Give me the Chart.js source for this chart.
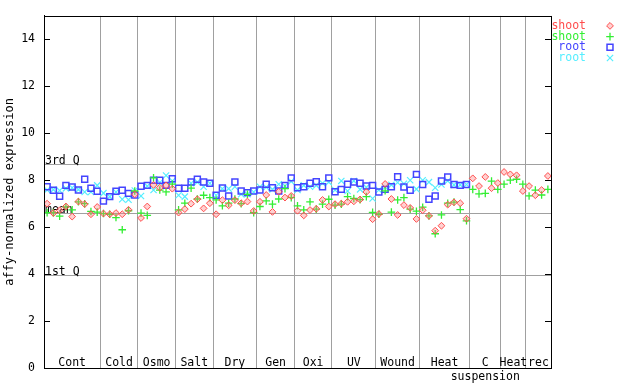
<!DOCTYPE html>
<html>
<head>
<meta charset="utf-8">
<script src="https://cdn.jsdelivr.net/npm/chart.js@4.4.1/dist/chart.umd.min.js"></script>
<style>
  body { margin: 0; background: #fff; }
  canvas { display: block; }
</style>
</head>
<body>
<canvas id="myChart" width="640" height="384"></canvas>
<script>
// groups along the x axis (label lines, number of samples)
const groupLabels = [['Cont'], ['Cold'], ['Osmo'], ['Salt'], ['Dry'], ['Gen'], ['Oxi'], ['UV'],
  ['Wound'], ['Heat'], ['C', 'suspension'], ['Heat'], ['rec']];
const groupSizes = [9, 6, 6, 6, 7, 6, 6, 7, 7, 8, 5, 4, 4];

const seriesNames = ['shoot', 'shoot', 'root', 'root'];

const shootRed = [
  7.00, 6.60, 6.72, 6.88, 6.45, 7.09, 6.98, 6.55, 6.86,
  6.58, 6.55, 6.60, 6.55, 6.74, 7.40,
  6.39, 6.88, 7.80, 7.68, 7.78, 7.64,
  6.62, 6.77, 7.00, 7.19, 6.80, 7.02,
  6.55, 7.15, 6.93, 7.15, 7.02, 7.09, 6.69,
  7.08, 7.37, 6.65, 7.51, 7.26, 7.33,
  6.70, 6.50, 6.73, 6.78, 7.16, 6.88,
  6.98, 7.00, 7.08, 7.10, 7.18, 7.50, 6.34,
  6.56, 7.84, 7.20, 6.52, 6.94, 6.82, 6.35,
  6.72, 6.48, 5.85, 6.06, 6.96, 7.06, 7.02, 6.36,
  8.08, 7.75, 8.14, 7.66, 7.88,
  8.35, 8.25, 8.21, 7.54,
  7.75, 7.36, 7.58, 8.18
];
const shootGreen = [
  6.62, 6.62, 6.47, 6.86, 6.74, 7.08, 7.00, 6.67, 6.64,
  6.58, 6.55, 6.41, 5.89, 6.70, 7.54,
  6.60, 6.50, 8.10, 7.58, 7.50, 7.83,
  6.74, 7.02, 7.66, 7.20, 7.36, 7.26,
  7.16, 6.91, 7.02, 7.20, 7.00, 7.40, 6.62,
  6.88, 7.12, 6.98, 7.20, 7.64, 7.26,
  6.91, 6.74, 7.08, 6.77, 6.98, 7.19,
  6.94, 6.98, 7.30, 7.22, 7.17, 7.30, 6.63,
  6.55, 7.55, 6.64, 7.16, 7.26, 6.77, 6.68,
  6.85, 6.48, 5.72, 6.52, 7.02, 7.07, 6.75, 6.27,
  7.61, 7.42, 7.44, 7.96, 7.61,
  7.83, 8.00, 8.04, 7.83,
  7.33, 7.58, 7.37, 7.61
];
const rootBlue = [
  7.72, 7.57, 7.32, 7.78, 7.71, 7.58, 8.04, 7.66, 7.53,
  7.11, 7.30, 7.53, 7.57, 7.44, 7.37,
  7.74, 7.78, 8.00, 8.00, 7.78, 8.06,
  7.66, 7.66, 7.92, 8.04, 7.92, 7.87,
  7.36, 7.67, 7.33, 7.92, 7.54, 7.47, 7.54,
  7.58, 7.83, 7.68, 7.54, 7.78, 8.10,
  7.68, 7.72, 7.87, 7.94, 7.72, 8.10,
  7.51, 7.61, 7.83, 7.92, 7.87, 7.75, 7.78,
  7.50, 7.61, 7.72, 8.15, 7.71, 7.57, 8.25,
  7.82, 7.19, 7.33, 7.97, 8.14, 7.82, 7.78, 7.82
];
const rootCyan = [
  7.58, 7.60, 7.56, 7.65, 7.68, 7.60, 7.50, 7.50, 7.78,
  7.45, 7.30, 7.50, 7.19, 7.17, 7.56,
  7.33, 7.75, 7.58, 7.90, 8.20, 7.97,
  7.36, 7.30, 7.87, 7.92, 7.72, 7.87,
  7.36, 7.64, 7.64, 7.72, 7.40, 7.40, 7.50,
  7.72, 7.70, 7.61, 7.83, 7.75, 7.95,
  7.58, 7.78, 7.72, 7.78, 7.87, 7.92,
  7.58, 7.97, 7.54, 7.97, 7.61, 7.70, 7.22,
  7.58, 7.70, 7.80, 7.90, 7.85, 8.00, 7.62,
  8.00, 7.92, 7.68, 7.82, 7.97, 7.80, 7.80, 7.82
];

// reference lines
const refLabels = ['3rd Q', 'mean', '1st Q'];
const refValues = [8.67, 6.62, 3.97];

const yTicks = [0, 2, 4, 6, 8, 10, 12, 14];

const FONT = 'DejaVu Sans Mono';

// group boundaries, built from the sizes
const bounds = [0];
groupSizes.forEach(function (n) { bounds.push(bounds[bounds.length - 1] + n); });
const nSamples = bounds[bounds.length - 1];

function toPoints(arr) {
  return arr.map(function (v, i) { return { x: i + 0.5, y: v }; });
}

const data = {
  datasets: [
    {
      label: seriesNames[0],
      data: toPoints(shootRed),
      borderColor: '#ff4d4d',
      backgroundColor: 'rgba(255,120,120,0.35)',
      pointStyle: 'rectRot',
      pointRadius: 3.4,
      borderWidth: 1
    },
    {
      label: seriesNames[1],
      data: toPoints(shootGreen),
      borderColor: '#33ee33',
      backgroundColor: '#33ee33',
      pointStyle: 'cross',
      pointRadius: 3.8,
      borderWidth: 1.3
    },
    {
      label: seriesNames[2],
      data: toPoints(rootBlue),
      borderColor: '#4444ff',
      backgroundColor: 'rgba(255,255,255,0)',
      pointStyle: 'rect',
      pointRadius: 4.2,
      borderWidth: 1.5
    },
    {
      label: seriesNames[3],
      data: toPoints(rootCyan),
      borderColor: '#55eeff',
      backgroundColor: '#55eeff',
      pointStyle: 'crossRot',
      pointRadius: 4.4,
      borderWidth: 1.2
    }
  ]
};

const overlay = {
  id: 'overlay',
  beforeDatasetsDraw(chart) {
    const ctx = chart.ctx;
    const a = chart.chartArea;
    const y = chart.scales.y;
    ctx.save();
    ctx.strokeStyle = '#a0a0a0';
    ctx.lineWidth = 1;
    ctx.fillStyle = '#000';
    ctx.font = '11.5px "' + FONT + '"';
    ctx.textAlign = 'left';
    ctx.textBaseline = 'alphabetic';
    refValues.forEach(function (v, i) {
      const py = Math.round(y.getPixelForValue(v)) + 0.5;
      ctx.beginPath();
      ctx.moveTo(a.left, py);
      ctx.lineTo(a.right, py);
      ctx.stroke();
      ctx.fillText(refLabels[i], a.left + 1, py - 1);
    });
    ctx.restore();
  },
  afterDatasetsDraw(chart) {
    const ctx = chart.ctx;
    const a = chart.chartArea;
    const x = chart.scales.x;
    const y = chart.scales.y;
    ctx.save();
    // frame
    ctx.strokeStyle = '#000';
    ctx.lineWidth = 1;
    ctx.strokeRect(Math.round(a.left) + 0.5, Math.round(a.top) + 0.5,
      Math.round(a.right - a.left), Math.round(a.bottom - a.top));
    // inner ticks on both sides
    yTicks.forEach(function (v) {
      const py = Math.round(y.getPixelForValue(v)) + 0.5;
      ctx.beginPath();
      ctx.moveTo(a.left, py); ctx.lineTo(a.left + 6, py);
      ctx.moveTo(a.right - 6, py); ctx.lineTo(a.right, py);
      ctx.stroke();
    });
    // group labels
    ctx.font = '11.5px "' + FONT + '"';
    ctx.textAlign = 'center';
    ctx.textBaseline = 'alphabetic';
    ctx.fillStyle = '#000';
    groupLabels.forEach(function (lines, i) {
      const cx = x.getPixelForValue((bounds[i] + bounds[i + 1]) / 2);
      lines.forEach(function (t, k) {
        ctx.fillText(t, cx, a.bottom - 2 + k * 14);
      });
    });
    // legend
    ctx.textAlign = 'right';
    ctx.textBaseline = 'middle';
    chart.data.datasets.forEach(function (ds, i) {
      const ly = a.top + 10 + i * 10.7;
      ctx.fillStyle = ds.borderColor;
      ctx.fillText(ds.label, 586, ly);
      ctx.strokeStyle = ds.borderColor;
      ctx.fillStyle = ds.backgroundColor;
      ctx.lineWidth = ds.borderWidth;
      Chart.helpers.drawPoint(ctx, {
        pointStyle: ds.pointStyle,
        radius: ds.pointRadius,
        borderWidth: ds.borderWidth,
        rotation: 0
      }, 610, ly);
    });
    ctx.restore();
  }
};

const config = {
  type: 'scatter',
  data: data,
  options: {
    responsive: false,
    animation: false,
    layout: { padding: { top: 14, right: 89, left: 0, bottom: 0 } },
    plugins: {
      legend: { display: false },
      tooltip: { enabled: false }
    },
    scales: {
      x: {
        type: 'linear',
        min: 0,
        max: nSamples,
        afterBuildTicks: function (scale) {
          scale.ticks = bounds.map(function (v) { return { value: v }; });
        },
        afterFit: function (scale) { scale.height = 16; },
        ticks: { display: false },
        grid: { color: '#a0a0a0', drawTicks: false },
        border: { color: '#000' }
      },
      y: {
        min: 0,
        max: 15,
        afterBuildTicks: function (scale) {
          scale.ticks = yTicks.map(function (v) { return { value: v }; });
        },
        afterFit: function (scale) { scale.width = 44; },
        ticks: {
          color: '#000',
          padding: 9,
          font: { family: FONT, size: 11.5 }
        },
        grid: { display: false, drawTicks: false },
        border: { color: '#000' },
        title: {
          display: true,
          text: 'affy-normalized expression',
          color: '#000',
          padding: { top: 3, bottom: 0 },
          font: { family: FONT, size: 12 }
        }
      }
    }
  },
  plugins: [overlay]
};

var myChart = new Chart(document.getElementById('myChart'), config);
</script>
</body>
</html>
